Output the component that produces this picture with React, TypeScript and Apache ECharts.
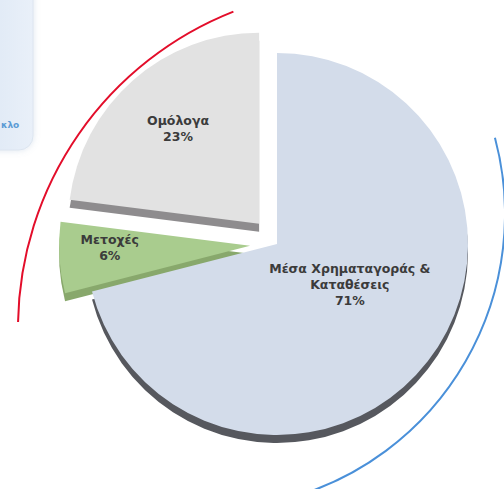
import React, { useEffect, useRef } from "react";
import * as echarts from "echarts";

const categories = ["Μέσα Χρηματαγοράς &\nΚαταθέσεις", "Μετοχές", "Ομόλογα"];
const values = [71, 6, 23];
const exploded = [false, true, true];
const faceColors = ["#d3dcea", "#a9cc8e", "#e2e2e2"];
const rimColors = ["#56585e", "#88a86c", "#8e8c8e"];
const labelShift = [
  [-5, -20],
  [-42, -4],
  [-16, -21],
];

const CX = 277;
const CY = 244;
const R = 191;
const OFFSET = 27;

export default function App() {
  const ref = useRef<HTMLDivElement>(null);
  useEffect(() => {
    document.body.style.margin = "0";
    const chart = echarts.init(ref.current!, null, { renderer: "svg" });
    const deg = Math.PI / 180;
    const option: any = {
      animation: false,
      backgroundColor: "#ffffff",
      graphic: [
        {
          type: "rect",
          z: 0,
          shape: { x: -30, y: -20, width: 63, height: 170, r: 14 },
          style: {
            fill: new echarts.graphic.LinearGradient(0, 0, 1, 0, [
              { offset: 0, color: "#dbe6f4" },
              { offset: 1, color: "#e9f0f9" },
            ]),
            stroke: "#dce5f0",
            lineWidth: 1,
            shadowBlur: 6,
            shadowColor: "rgba(120,150,190,0.25)",
          },
        },
        {
          type: "text",
          z: 1,
          x: 1,
          y: 125,
          style: {
            text: "κλο",
            fill: "#5b9bd5",
            font: "bold 9px 'DejaVu Sans'",
            align: "left",
            verticalAlign: "middle",
          },
        },
        {
          type: "arc",
          z: 0,
          shape: { cx: 358, cy: 328, r: 340, startAngle: 181 * deg, endAngle: 248.5 * deg, clockwise: true },
          style: { stroke: "#e30d2a", lineWidth: 2, fill: "none" },
        },
        {
          type: "arc",
          z: 0,
          shape: { cx: 210, cy: 214, r: 295, startAngle: -15 * deg, endAngle: 75 * deg, clockwise: true },
          style: { stroke: "#4a90d9", lineWidth: 2, fill: "none" },
        },
      ],
      series: [
        {
          type: "pie",
          z: 1,
          silent: true,
          center: [CX, CY + 8],
          radius: R,
          startAngle: 90,
          clockwise: true,
          selectedMode: "multiple",
          selectedOffset: OFFSET,
          label: { show: false },
          labelLine: { show: false },
          data: categories.map((name, i) => ({
            name,
            value: values[i],
            selected: exploded[i],
            itemStyle: { color: rimColors[i] },
          })),
        },
        {
          type: "pie",
          z: 2,
          silent: true,
          center: [CX, CY],
          radius: R,
          startAngle: 90,
          clockwise: true,
          selectedMode: "multiple",
          selectedOffset: OFFSET,
          label: {
            show: true,
            position: "inside",
            formatter: (p: any) => `${p.name}\n${p.value}%`,
            color: "#3b3b3b",
            fontFamily: "'DejaVu Sans'",
            fontWeight: "bold",
            fontSize: 12.5,
            lineHeight: 16,
            align: "center",
          },
          labelLine: { show: false },
          labelLayout: (params: any) => ({
            dx: labelShift[params.dataIndex][0],
            dy: labelShift[params.dataIndex][1],
          }),
          data: categories.map((name, i) => ({
            name,
            value: values[i],
            selected: exploded[i],
            itemStyle: { color: faceColors[i] },
          })),
        },
      ],
    };
    chart.setOption(option);
    return () => chart.dispose();
  }, []);
  return <div ref={ref} style={{ width: 504, height: 489 }} />;
}
